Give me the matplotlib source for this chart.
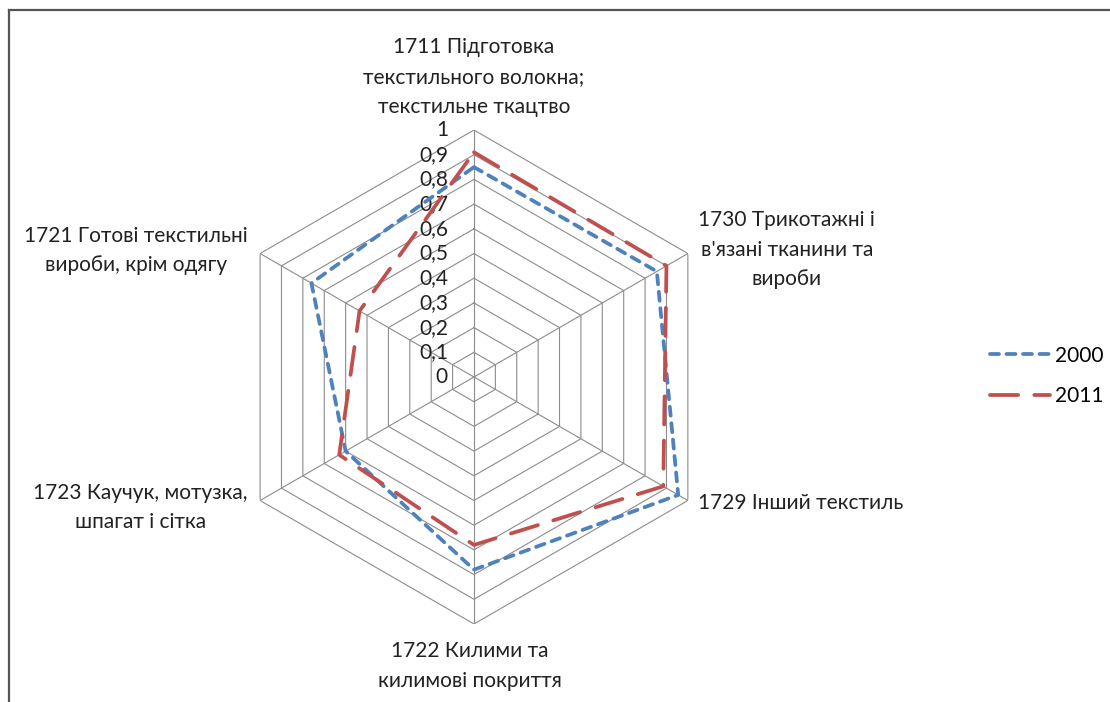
import numpy as np
import matplotlib.pyplot as plt

categories = [
    "1711 Підготовка\nтекстильного волокна;\nтекстильне ткацтво",
    "1730 Трикотажні і\nв'язані тканини та\nвироби",
    "1729 Інший текстиль",
    "1722 Килими та\nкилимові покриття",
    "1723 Каучук, мотузка,\nшпагат і сітка",
    "1721 Готові текстильні\nвироби, крім одягу",
]
values_2000 = [0.85, 0.855, 0.955, 0.78, 0.60, 0.76]
values_2011 = [0.91, 0.90, 0.885, 0.68, 0.63, 0.535]
levels = [0, 0.1, 0.2, 0.3, 0.4, 0.5, 0.6, 0.7, 0.8, 0.9, 1.0]
level_labels = ["0", "0,1", "0,2", "0,3", "0,4", "0,5", "0,6", "0,7", "0,8", "0,9", "1"]

# label offsets from each outer vertex, in pixels
label_offsets = [(0, 53), (99, 4), (113, -3), (-4, -42), (-120, -7), (-124, 3)]

plt.rcParams['font.family'] = ['Lato', 'DejaVu Sans']
fs = 15

fig = plt.figure(figsize=(11.1, 7.02), dpi=100)
ax = fig.add_axes([0.2045, 0.1111, 0.445, 0.7037], projection='polar')
ax.set_theta_zero_location('N')
ax.set_theta_direction(-1)
ax.set_ylim(0, 1)
ax.grid(False)
ax.set_xticks([])
ax.set_yticks([])
ax.spines['polar'].set_visible(False)
ax.patch.set_visible(False)

n = len(categories)
theta = np.linspace(0, 2 * np.pi, n, endpoint=False)
theta_c = np.append(theta, theta[0])

grid_col = '#8c8c8c'
for lv in levels[1:]:
    ax.plot(theta_c, [lv] * (n + 1), color=grid_col, lw=0.8, zorder=1)
for th in theta:
    ax.plot([th, th], [0, 1], color=grid_col, lw=0.8, zorder=1)

for lv, lab in zip(levels, level_labels):
    ax.annotate(lab, (0, lv), xytext=(-26, 0), textcoords='offset pixels',
                ha='right', va='center', fontsize=fs, color='#222222')

for th, lab, off in zip(theta, categories, label_offsets):
    ax.annotate(lab, (th, 1), xytext=off, textcoords='offset pixels',
                ha='center', va='center', multialignment='center',
                fontsize=fs, color='#222222', linespacing=1.6,
                annotation_clip=False)

l1, = ax.plot(theta_c, values_2000 + values_2000[:1], color='#4F81BD', lw=2.7,
              dashes=(2.4, 2.0), dash_capstyle='round', label='2000', zorder=3)
l2, = ax.plot(theta_c, values_2011 + values_2011[:1], color='#C0504D', lw=2.7,
              dashes=(7.5, 4.3), dash_capstyle='round', label='2011', zorder=3)

fig.legend(handles=[l1, l2], loc='center left', bbox_to_anchor=(990 / 1110, 1 - 376 / 702),
           frameon=False, fontsize=fs, handlelength=2.9, handletextpad=0.2,
           borderpad=0, borderaxespad=0, labelspacing=1.0)

# chart border (only top and left edges visible in the crop)
fig.add_artist(plt.Line2D([9 / 1110, 1], [1 - 10 / 702, 1 - 10 / 702], color='#555555', lw=1.6,
                          transform=fig.transFigure))
fig.add_artist(plt.Line2D([9 / 1110, 9 / 1110], [0, 1 - 10 / 702], color='#555555', lw=1.6,
                          transform=fig.transFigure))

fig.savefig('out.png', dpi=100)
